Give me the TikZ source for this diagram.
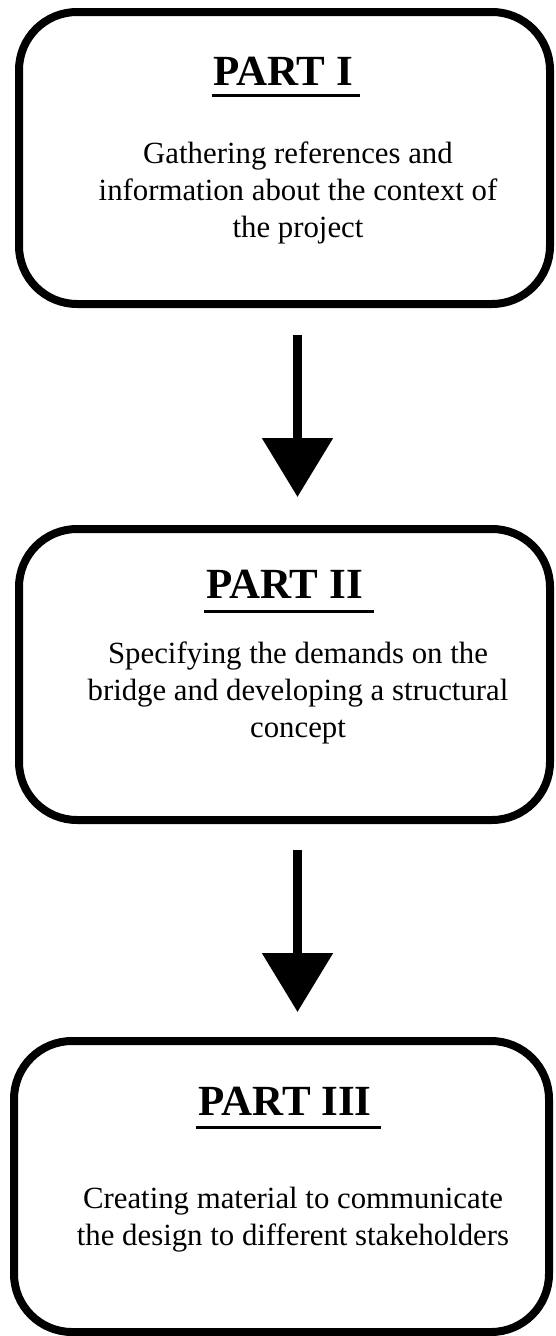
\documentclass[tikz,border=0pt]{standalone}
\usepackage{fontspec}
\setmainfont{Liberation Serif}
\usetikzlibrary{arrows.meta}
\begin{document}
\begin{tikzpicture}[x=1pt,y=-1pt,
  stage/.style={draw=black, line width=8pt, rounded corners=58pt, inner sep=0pt, outer sep=0pt},
  titletext/.style={inner sep=0pt, anchor=base, font=\fontsize{43}{48}\selectfont\bfseries},
  bodytext/.style={inner sep=0pt, anchor=base, align=center, font=\fontsize{30.8}{37}\selectfont},
  uline/.style={line width=3pt},
  flowarrow/.style={line width=9pt, -{Triangle[width=69pt,length=59pt]}}]
\useasboundingbox (0,0) rectangle (555,1336);
% boxes
\node[stage, minimum width=531pt, minimum height=292pt] (b1) at (284.5,158) {};
\node[stage, minimum width=531pt, minimum height=291pt] (b2) at (284.5,674.5) {};
\node[stage, minimum width=535pt, minimum height=291pt] (b3) at (281.5,1186.5) {};
% titles
\node[titletext] (t1) at (283,85) {PART I};
\node[titletext] (t2) at (284.5,598) {PART II};
\node[titletext] (t3) at (285,1115) {PART III};
\draw[uline] ([xshift=-1pt,yshift=-10pt]t1.base west) -- ([xshift=7pt,yshift=-10pt]t1.base east);
\draw[uline] ([xshift=-2pt,yshift=-13pt]t2.base west) -- ([xshift=11pt,yshift=-13pt]t2.base east);
\draw[uline] ([xshift=-2pt,yshift=-12pt]t3.base west) -- ([xshift=9pt,yshift=-12pt]t3.base east);
% bodies (anchor base = baseline of the last line)
\node[bodytext] (x1) at (298,237) {Gathering references and\\information about the context of\\the project};
\node[bodytext] (x2) at (298,737) {Specifying the demands on the\\bridge and developing a structural\\concept};
\node[bodytext] (x3) at (293,1245) {Creating material to communicate\\the design to different stakeholders};
% arrows
\coordinate (a1s) at (297.5,335);
\coordinate (a1e) at (297.5,497);
\coordinate (a2s) at (297.5,850);
\coordinate (a2e) at (297.5,1012);
\draw[flowarrow] (a1s) -- (a1e);
\draw[flowarrow] (a2s) -- (a2e);
\end{tikzpicture}
\end{document}
